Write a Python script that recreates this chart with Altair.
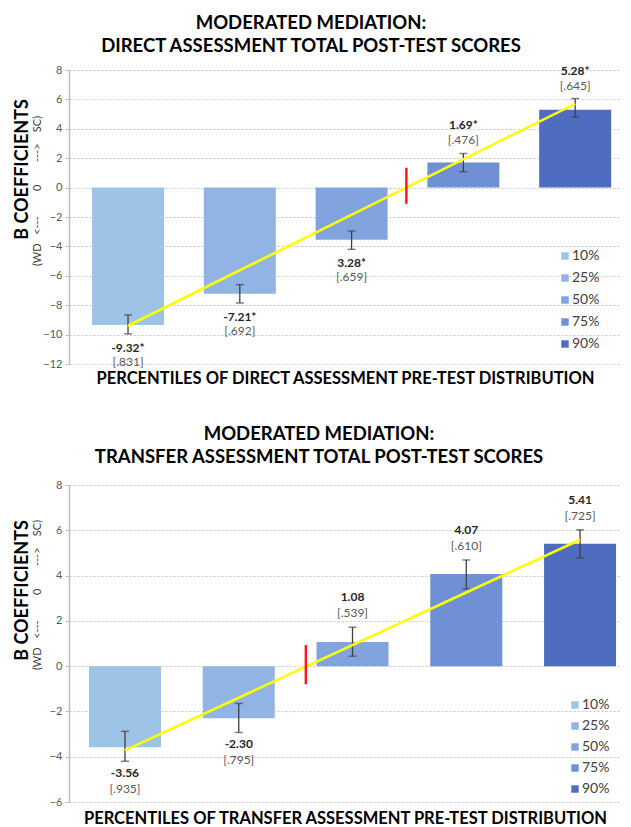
import altair as alt
import pandas as pd

# ---------------- data ----------------
pcts = ["10%", "25%", "50%", "75%", "90%"]
pos = [0, 1, 2, 3, 4]
colors = ["#9DC3E6", "#91B4E4", "#82A4DE", "#7090D6", "#4E6CC0"]

# Direct assessment
d_b = [-9.35, -7.22, -3.55, 1.70, 5.30]
d_lo = [-9.95, -7.85, -4.20, 1.08, 4.80]
d_hi = [-8.66, -6.60, -2.95, 2.32, 6.06]
d_val = ["-9.32*", "-7.21*", "3.28*", "1.69*", "5.28*"]
d_se = ["[.831]", "[.692]", "[.659]", "[.476]", "[.645]"]
d_trend_x = [0, 4]
d_trend_y = [-9.4, 5.7]
d_cross_x = [2.49, 2.49]
d_cross_y = [-1.1, 1.35]

# Transfer assessment
t_b = [-3.58, -2.30, 1.07, 4.07, 5.40]
t_lo = [-4.20, -2.93, 0.44, 3.41, 4.78]
t_hi = [-2.88, -1.65, 1.72, 4.69, 6.02]
t_val = ["-3.56", "-2.30", "1.08", "4.07", "5.41"]
t_se = ["[.935]", "[.795]", "[.539]", "[.610]", "[.725]"]
t_trend_x = [0, 4]
t_trend_y = [-3.72, 5.58]
t_cross_x = [1.59, 1.59]
t_cross_y = [-0.8, 0.93]

NB = "\u00a0"
SUB = "(WD" + NB * 3 + "<---" + NB * 9 + "0" + NB * 8 + "--->" + NB * 4 + "SC)"
FONT = "Lato"


def panel(title, xtitle, b, lo, hi, val, se, trx, try_, crx, cry,
          ydom, height, xdom, leg_x, leg_y, row_pad, ytitle_y, sub_y,
          neg_dy, pos_dy, title_offset, title_dx, xpad):
    df = pd.DataFrame({"pct": pcts, "pos": pos, "b": b, "lo": lo, "hi": hi,
                       "val": val, "se": se})
    trend = pd.DataFrame({"pos": trx, "b": try_})
    cross = pd.DataFrame({"pos": crx, "b": cry})

    xs = alt.Scale(domain=xdom, nice=False, zero=False, padding=0)
    ys = alt.Scale(domain=ydom, nice=False, padding=0)
    xax = alt.Axis(title=xtitle, labels=False, ticks=False, domain=False,
                   grid=False, titleFontSize=16.5, titleFont=FONT,
                   titleFontWeight="bold", titleColor="#000000",
                   titlePadding=xpad)
    yax = alt.Axis(values=list(range(ydom[0], ydom[1] + 1, 2)),
                   labelOverlap=False,
                   title="B COEFFICIENTS", titleFontSize=18, titleFont=FONT,
                   titleFontWeight="bold", titleColor="#000000",
                   titleAngle=270, titleX=-47, titleY=ytitle_y,
                   titleAlign="center", titleBaseline="middle",
                   labelFontSize=11, labelFont=FONT, labelColor="#595959",
                   labelPadding=3, tickSize=4, tickColor="#BFBFBF",
                   domainColor="#BFBFBF", domainWidth=1.5,
                   gridColor="#C4C4C4", gridDash=[2, 2], gridWidth=1)

    X = lambda f: alt.X(f, scale=xs, axis=xax)
    Y = lambda f: alt.Y(f, scale=ys, axis=yax)

    base = alt.Chart(df)
    bars = base.mark_bar(size=72).encode(
        x=X("pos:Q"),
        y=Y("b:Q"),
        y2=alt.Y2(datum=0),
        color=alt.Color("pct:N", scale=alt.Scale(domain=pcts, range=colors),
                        legend=alt.Legend(orient="none", legendX=leg_x,
                                          legendY=leg_y, title=None,
                                          symbolType="square", symbolSize=55,
                                          symbolStrokeWidth=0,
                                          labelFontSize=14, labelFont=FONT,
                                          labelColor="#404040",
                                          rowPadding=row_pad, labelOffset=0,
                                          padding=0)),
    )
    err = base.mark_rule(color="#404040", strokeWidth=1.3).encode(
        x=X("pos:Q"), y=Y("lo:Q"), y2="hi:Q")
    cap_lo = base.mark_tick(orient="horizontal", size=8, thickness=1.4,
                            color="#404040").encode(x=X("pos:Q"), y=Y("lo:Q"))
    cap_hi = base.mark_tick(orient="horizontal", size=8, thickness=1.4,
                            color="#404040").encode(x=X("pos:Q"), y=Y("hi:Q"))
    line = alt.Chart(trend).mark_line(color="#FFFF00", strokeWidth=2.6).encode(
        x=X("pos:Q"), y=Y("b:Q"))
    red = alt.Chart(cross).mark_line(color="#FF1A1A", strokeWidth=2.5).encode(
        x=X("pos:Q"), y=Y("b:Q"))

    neg = base.transform_filter("datum.b < 0")
    posd = base.transform_filter("datum.b >= 0")
    tv = dict(font=FONT, fontSize=12, fontWeight="bold", color="#262626",
              baseline="middle", align="center")
    ts = dict(font=FONT, fontSize=12, color="#595959", baseline="middle",
              align="center")
    neg_v = neg.mark_text(dy=neg_dy[0], **tv).encode(x=X("pos:Q"), y=Y("lo:Q"), text="val:N")
    neg_s = neg.mark_text(dy=neg_dy[1], **ts).encode(x=X("pos:Q"), y=Y("lo:Q"), text="se:N")
    pos_v = posd.mark_text(dy=pos_dy[0], **tv).encode(x=X("pos:Q"), y=Y("hi:Q"), text="val:N")
    pos_s = posd.mark_text(dy=pos_dy[1], **ts).encode(x=X("pos:Q"), y=Y("hi:Q"), text="se:N")

    sub = alt.Chart(pd.DataFrame({"t": [SUB]})).mark_text(
        angle=270, font=FONT, fontSize=11, color="#404040",
        baseline="middle", align="center").encode(
        text="t:N", x=alt.value(-31), y=alt.value(sub_y))

    return alt.layer(bars, err, cap_lo, cap_hi, line, red,
                     neg_v, neg_s, pos_v, pos_s, sub).properties(
        width=552, height=height,
        title=alt.TitleParams(text=title, fontSize=18.5, font=FONT,
                              fontWeight="bold", color="#000000",
                              anchor="middle", frame="bounds", dx=title_dx,
                              lineHeight=23, offset=title_offset),
    )


top = panel(["MODERATED MEDIATION:", "DIRECT ASSESSMENT TOTAL POST-TEST SCORES"],
            "PERCENTILES OF DIRECT ASSESSMENT PRE-TEST DISTRIBUTION",
            d_b, d_lo, d_hi, d_val, d_se, d_trend_x, d_trend_y,
            d_cross_x, d_cross_y, [-12, 8], 294, [-0.528, 4.41],
            489, 179, 8, 99, 121, (14, 28), (-28, -13), 9, -6, 6)

bottom = panel(["MODERATED MEDIATION:", "TRANSFER ASSESSMENT TOTAL POST-TEST SCORES"],
               "PERCENTILES OF TRANSFER ASSESSMENT PRE-TEST DISTRIBUTION",
               t_b, t_lo, t_hi, t_val, t_se, t_trend_x, t_trend_y,
               t_cross_x, t_cross_y, [-6, 8], 317, [-0.492, 4.36],
               499, 213, 7, 105, 110, (12, 28), (-30, -14), 13, 2, 8)

chart = alt.vconcat(top, bottom, spacing=37).resolve_scale(
    color="independent", x="independent", y="independent"
).resolve_legend(color="independent").properties(
    padding={"left": 5, "top": 5, "right": 0, "bottom": 0}
).configure_view(stroke=None).configure_axisY(labelOverlap=False)

chart.save("out.html", embed_options={"renderer": "svg", "actions": False})
